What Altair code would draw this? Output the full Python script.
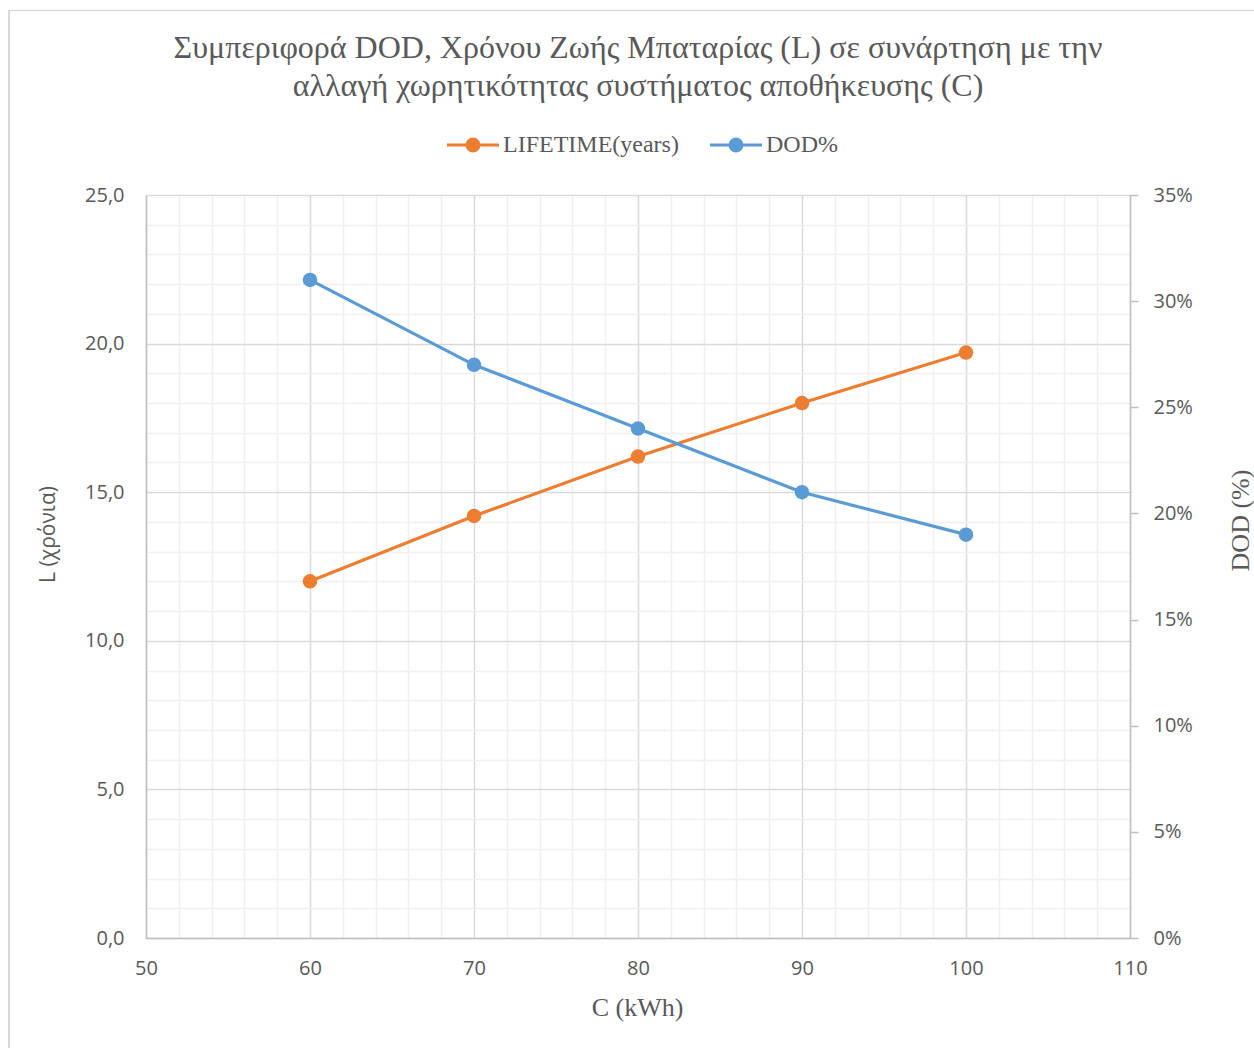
import altair as alt
import pandas as pd

# Storage capacity (kWh) and the resulting battery lifetime / depth of discharge
capacity = [60, 70, 80, 90, 100]
lifetime_years = [12.0, 14.2, 16.2, 18.0, 19.7]
dod_share = [0.31, 0.27, 0.24, 0.21, 0.19]

series_names = ["LIFETIME(years)", "DOD%"]
series_colors = ["#ED7D31", "#5B9BD5"]

title_lines = [
    "Συμπεριφορά DOD, Χρόνου Ζωής Μπαταρίας (L) σε συνάρτηση με την",
    "αλλαγή χωρητικότητας συστήματος αποθήκευσης (C)",
]

life_df = pd.DataFrame({"C": capacity, "L": lifetime_years, "series": series_names[0]})
dod_df = pd.DataFrame({"C": capacity, "DOD": dod_share, "series": series_names[1]})

SERIF = "Liberation Serif"
SANS = "Open Sans"
TEXT = "#595959"
AXIS_LINE = "#bfbfbf"
MAJOR = "#d9d9d9"
MINOR = "#f0f0f0"

W, H = 984, 743

color = alt.Color(
    "series:N",
    scale=alt.Scale(domain=series_names, range=series_colors),
    legend=alt.Legend(
        title=None,
        orient="none",
        direction="horizontal",
        legendX=315,
        legendY=-62,
        labelFont=SERIF,
        labelFontSize=24,
        labelColor=TEXT,
        labelOffset=18,
        labelLimit=400,
        columnPadding=25,
        symbolType="M-2.6,0L2.6,0M-0.6,0a0.6,0.6 0 1,0 1.2,0a0.6,0.6 0 1,0 -1.2,0",
        symbolSize=400,
        symbolStrokeWidth=3,
        symbolOpacity=1,
    ),
)

x_axis = alt.Axis(
    values=list(range(50, 111, 2)),
    tickCount=200,
    format="d",
    labelExpr="datum.value % 10 === 0 ? datum.label : ''",
    labelOverlap=False,
    labelFlush=False,
    ticks=False,
    grid=True,
    gridColor={"condition": {"test": "datum.value % 10 === 0", "value": MAJOR}, "value": MINOR},
    gridWidth=1.5,
    domainColor=AXIS_LINE,
    domainWidth=1.5,
    labelFont=SANS,
    labelFontSize=20,
    labelColor=TEXT,
    labelPadding=20,
    title="C (kWh)",
    titleFont=SERIF,
    titleFontSize=26,
    titleFontWeight="normal",
    titleColor=TEXT,
    titleX=491,
    titleY=69,
    titleBaseline="middle",
)
x_scale = alt.Scale(domain=[50, 110], nice=False, zero=False)

life_line = (
    alt.Chart(life_df)
    .mark_line(strokeWidth=3.2, point=alt.OverlayMarkDef(filled=True, size=210, opacity=1))
    .encode(
        x=alt.X("C:Q", scale=x_scale, axis=x_axis),
        y=alt.Y(
            "L:Q",
            scale=alt.Scale(domain=[0, 25], nice=False),
            axis=alt.Axis(
                orient="left",
                values=list(range(0, 26)),
                tickCount=200,
                labelExpr="datum.value % 5 === 0 ? replace(format(datum.value, '.1f'), '.', ',') : ''",
                labelOverlap=False,
                ticks=False,
                grid=True,
                gridColor={"condition": {"test": "datum.value % 5 === 0", "value": MAJOR}, "value": MINOR},
                gridWidth=1.5,
                domainColor=AXIS_LINE,
                domainWidth=1.5,
                labelFont=SANS,
                labelFontSize=20,
                labelColor=TEXT,
                labelPadding=22,
                title="L (χρόνια)",
                titleFont=SANS,
                titleFontSize=21,
                titleFontWeight="normal",
                titleColor=TEXT,
                titleAngle=270,
                titleX=-98,
                titleY=339,
                titleBaseline="middle",
            ),
        ),
        color=color,
    )
)

dod_line = (
    alt.Chart(dod_df)
    .mark_line(strokeWidth=3.2, point=alt.OverlayMarkDef(filled=True, size=210, opacity=1))
    .encode(
        x=alt.X("C:Q", scale=x_scale, axis=x_axis),
        y=alt.Y(
            "DOD:Q",
            scale=alt.Scale(domain=[0, 0.35], nice=False),
            axis=alt.Axis(
                orient="right",
                values=[0, 0.05, 0.1, 0.15, 0.2, 0.25, 0.3, 0.35],
                tickCount=200,
                format=".0%",
                grid=False,
                ticks=True,
                tickSize=8,
                tickColor=AXIS_LINE,
                tickWidth=1.5,
                domainColor=AXIS_LINE,
                domainWidth=1.5,
                labelFont=SANS,
                labelFontSize=20,
                labelColor=TEXT,
                labelPadding=15,
                title="DOD (%)",
                titleFont=SERIF,
                titleFontSize=26,
                titleFontWeight="normal",
                titleColor=TEXT,
                titleAngle=270,
                titleX=110,
                titleY=325,
                titleBaseline="middle",
            ),
        ),
        color=alt.Color("series:N"),
    )
)

# Light frame along the top and left edges of the chart area
frame_df = pd.DataFrame({"k": [0]})
frame_left = alt.Chart(frame_df).mark_rule(color=MAJOR, strokeWidth=2).encode(
    x=alt.value(-137), y=alt.value(-185), y2=alt.value(860)
)
frame_top = alt.Chart(frame_df).mark_rule(color=MAJOR, strokeWidth=1.5).encode(
    x=alt.value(-138), x2=alt.value(1110), y=alt.value(-184.5)
)

chart = (
    alt.layer(frame_left, frame_top, life_line, dod_line)
    .resolve_scale(y="independent")
    .properties(
        width=W,
        height=H,
        autosize=alt.AutoSizeParams(type="none"),
        padding={"left": 146, "top": 195, "right": 124, "bottom": 110},
        title=alt.TitleParams(
            text=title_lines,
            anchor="middle",
            font=SERIF,
            fontSize=32,
            fontWeight="normal",
            color=TEXT,
            lineHeight=38,
            offset=-94,
        ),
    )
    .configure_view(stroke=None)
    .configure(background="white")
)

chart.save("out.html", embed_options={"renderer": "svg", "actions": False})
